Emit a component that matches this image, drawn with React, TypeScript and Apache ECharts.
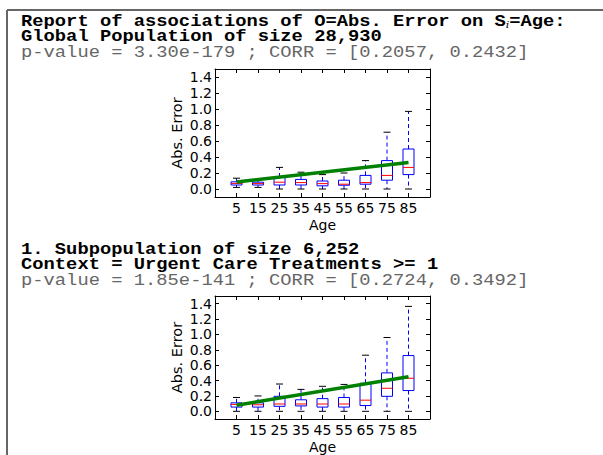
import React, { useEffect, useRef } from "react";
import * as echarts from "echarts";

const ages = [5, 15, 25, 35, 45, 55, 65, 75, 85];
const yTicks = [0, 0.2, 0.4, 0.6, 0.8, 1.0, 1.2, 1.4];

// Global population
const globalMin = [0.02, 0.02, 0, 0, 0, 0, 0, 0, 0];
const globalQ1 = [0.05, 0.05, 0.05, 0.05, 0.04, 0.047, 0.06, 0.11, 0.18];
const globalMed = [0.07, 0.067, 0.085, 0.08, 0.067, 0.06, 0.08, 0.17, 0.27];
const globalQ3 = [0.09, 0.085, 0.15, 0.12, 0.1, 0.11, 0.17, 0.355, 0.5];
const globalMax = [0.135, 0.12, 0.27, 0.21, 0.18, 0.2, 0.355, 0.71, 0.97];
const globalTrend = [0.088, 0.33];

// Subpopulation 1
const subMin = [0, 0, 0, 0, 0, 0, 0, 0, 0];
const subQ1 = [0.055, 0.055, 0.065, 0.07, 0.055, 0.055, 0.075, 0.195, 0.27];
const subMed = [0.09, 0.085, 0.095, 0.095, 0.095, 0.095, 0.145, 0.3, 0.43];
const subQ3 = [0.11, 0.11, 0.195, 0.15, 0.165, 0.18, 0.365, 0.5, 0.725];
const subMax = [0.18, 0.2, 0.355, 0.285, 0.325, 0.35, 0.73, 0.96, 1.365];
const subTrend = [0.08, 0.45];

const headerTop = [
  "Report of associations of O=Abs. Error on S{sub|i}=Age:",
  "Global Population of size 28,930",
  "p-value = 3.30e-179 ; CORR = [0.2057, 0.2432]",
];
const headerSub = [
  "1. Subpopulation of size 6,252",
  "Context = Urgent Care Treatments >= 1",
  "p-value = 1.85e-141 ; CORR = [0.2724, 0.3492]",
];

const MONO = "'Liberation Mono', 'DejaVu Sans Mono', monospace";
const SANS = "'DejaVu Sans', sans-serif";

function boxData(mn: number[], q1: number[], md: number[], q3: number[], mx: number[]) {
  return ages.map((a, i) => [a, mn[i], q1[i], md[i], q3[i], mx[i]]);
}

function renderBox(params: any, api: any) {
  const x = api.value(0);
  const lo = api.coord([x, api.value(1)]);
  const q1 = api.coord([x, api.value(2)]);
  const md = api.coord([x, api.value(3)]);
  const q3 = api.coord([x, api.value(4)]);
  const hi = api.coord([x, api.value(5)]);
  const cx = lo[0];
  const hw = 5.5;
  const cw = 3.5;
  const blue = "#0000ff";
  return {
    type: "group",
    children: [
      { type: "line", shape: { x1: cx, y1: q3[1], x2: cx, y2: hi[1] }, style: { stroke: blue, lineWidth: 1, lineDash: [4, 3] } },
      { type: "line", shape: { x1: cx, y1: q1[1], x2: cx, y2: lo[1] }, style: { stroke: blue, lineWidth: 1, lineDash: [4, 3] } },
      { type: "line", shape: { x1: cx - cw, y1: hi[1], x2: cx + cw, y2: hi[1] }, style: { stroke: "#000", lineWidth: 1 } },
      { type: "line", shape: { x1: cx - cw, y1: lo[1], x2: cx + cw, y2: lo[1] }, style: { stroke: "#000", lineWidth: 1 } },
      { type: "rect", shape: { x: cx - hw, y: q3[1], width: hw * 2, height: q1[1] - q3[1] }, style: { stroke: blue, fill: "#fff", lineWidth: 1 } },
      { type: "line", shape: { x1: cx - hw, y1: md[1], x2: cx + hw, y2: md[1] }, style: { stroke: "#ff0000", lineWidth: 1 } },
    ],
  };
}

function axesFor(gi: number) {
  const line = { show: true, onZero: false, lineStyle: { color: "#000", width: 1 } };
  const xBottom = {
    type: "value", gridIndex: gi, min: -5, max: 95, position: "bottom",
    axisLine: line,
    axisTick: { show: true, inside: true, length: 4, customValues: ages, lineStyle: { color: "#000" } },
    axisLabel: { customValues: ages, color: "#000", fontSize: 14, fontFamily: SANS, margin: 4 },
    splitLine: { show: false },
    name: "Age", nameLocation: "middle", nameGap: 21,
    nameTextStyle: { color: "#000", fontSize: 14, fontFamily: SANS },
  };
  const xTop = {
    type: "value", gridIndex: gi, min: -5, max: 95, position: "top",
    axisLine: line,
    axisTick: { show: true, inside: true, length: 4, customValues: ages, lineStyle: { color: "#000" } },
    axisLabel: { show: false },
    splitLine: { show: false },
  };
  const yLeft = {
    type: "value", gridIndex: gi, min: -0.1, max: 1.5, position: "left",
    axisLine: line,
    axisTick: { show: true, inside: true, length: 4, customValues: yTicks, lineStyle: { color: "#000" } },
    axisLabel: { customValues: yTicks, color: "#000", fontSize: 14, fontFamily: SANS, margin: 3, formatter: (v: number) => v.toFixed(1) },
    splitLine: { show: false },
    name: "Abs. Error", nameLocation: "middle", nameGap: 31,
    nameTextStyle: { color: "#000", fontSize: 14.5, fontFamily: SANS },
  };
  const yRight = {
    type: "value", gridIndex: gi, min: -0.1, max: 1.5, position: "right",
    axisLine: line,
    axisTick: { show: true, inside: true, length: 4, customValues: yTicks, lineStyle: { color: "#000" } },
    axisLabel: { show: false },
    splitLine: { show: false },
  };
  return { x: [xBottom, xTop], y: [yLeft, yRight] };
}

function headerTexts(lines: string[], ys: number[]) {
  return lines.map((t, i) => ({
    type: "text",
    x: 21,
    y: ys[i],
    scaleY: 0.85,
    style: {
      text: t,
      fontFamily: MONO,
      fontSize: 18.8,
      fontWeight: i < 2 ? "bold" : "normal",
      fill: i < 2 ? "#000" : "#666",
      verticalAlign: "middle",
      rich: {
        sub: { fontFamily: "'DejaVu Serif', serif", fontStyle: "italic", fontSize: 11, fill: "#000", padding: [8, 0, 0, 0] },
      },
    },
  }));
}

export default function App() {
  const ref = useRef<HTMLDivElement>(null);
  useEffect(() => {
    if (!ref.current) return;
    const chart = echarts.init(ref.current, undefined, { renderer: "svg" });
    const a0 = axesFor(0);
    const a1 = axesFor(1);
    const trendLine = (gi: number, vals: number[]) => ({
      type: "line",
      xAxisIndex: gi * 2,
      yAxisIndex: gi * 2,
      data: [[ages[0], vals[0]], [ages[ages.length - 1], vals[1]]],
      showSymbol: false,
      symbol: "none",
      lineStyle: { color: "#008000", width: 3.5 },
      z: 5,
      silent: true,
    });
    chart.setOption({
      animation: false,
      backgroundColor: "#fff",
      grid: [
        { left: 215, top: 69, width: 215, height: 128 },
        { left: 215, top: 296, width: 215, height: 127 },
      ],
      xAxis: [...a0.x, ...a1.x],
      yAxis: [...a0.y, ...a1.y],
      series: [
        {
          type: "custom", xAxisIndex: 0, yAxisIndex: 0,
          data: boxData(globalMin, globalQ1, globalMed, globalQ3, globalMax),
          renderItem: renderBox, encode: { x: 0, y: [1, 2, 3, 4, 5] }, z: 2, silent: true,
        },
        trendLine(0, globalTrend),
        {
          type: "custom", xAxisIndex: 2, yAxisIndex: 2,
          data: boxData(subMin, subQ1, subMed, subQ3, subMax),
          renderItem: renderBox, encode: { x: 0, y: [1, 2, 3, 4, 5] }, z: 2, silent: true,
        },
        trendLine(1, subTrend),
      ],
      graphic: [
        { type: "line", shape: { x1: 7, y1: 10, x2: 603, y2: 10 }, style: { stroke: "#666", lineWidth: 2 }, silent: true },
        { type: "line", shape: { x1: 7, y1: 10, x2: 7, y2: 455 }, style: { stroke: "#666", lineWidth: 2 }, silent: true },
        ...headerTexts(headerTop, [21, 36.5, 52]),
        ...headerTexts(headerSub, [249, 264.5, 280]),
      ],
    });
    return () => chart.dispose();
  }, []);
  return <div ref={ref} style={{ position: "absolute", left: 0, top: 0, width: 603, height: 455 }} />;
}
